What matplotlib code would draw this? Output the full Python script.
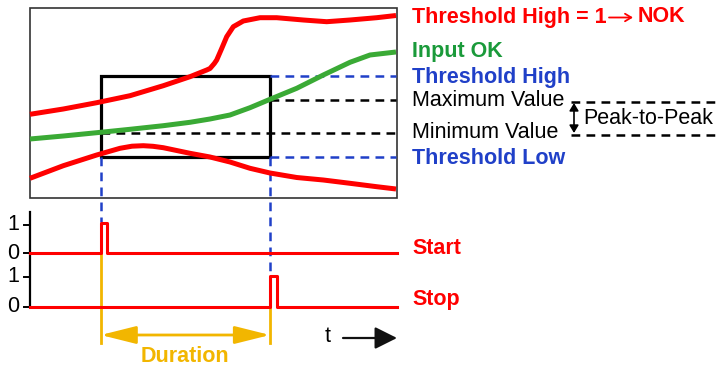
"""Peak-to-peak threshold diagram: input curve, thresholds, start/stop pulses."""

import matplotlib.pyplot as plt
from matplotlib.patches import Rectangle, FancyArrowPatch

plt.rcParams["font.family"] = ["Liberation Sans", "DejaVu Sans"]

RED = "#ff0000"
GREEN = "#3aaa35"
BLUE = "#2040c8"
ORANGE = "#f2b600"
FS = 15.5

# curves (pixel coords, y down)
high_x = [30, 63.3, 96.7, 130, 163.3, 190, 206.7, 210, 214.3, 216.7, 221.7, 226.7,
          233.3, 243.3, 260, 276.7, 303.3, 326.7, 350, 376.7, 396]
high_y = [114.3, 109, 102.7, 95.7, 85.7, 76.7, 70, 68.5, 63.5, 60, 48.5, 36.7,
          26.7, 21, 17.7, 17.7, 20, 21.7, 20, 17.7, 15.5]
ok_x = [30, 63.3, 96.7, 130, 163.3, 190, 210, 230, 250, 270, 296.7, 323.3, 350, 370, 396]
ok_y = [139, 136, 132.7, 129.3, 125.7, 122.3, 119, 115, 107.7, 99.3, 88.3, 75, 62.3, 55, 52]
low_x = [30, 63.3, 96.7, 120, 132, 143.3, 153, 163.3, 190, 210, 230, 250, 270,
         296.7, 323.3, 350, 376.7, 396]
low_y = [178.3, 165.7, 155, 148.3, 146.2, 145.7, 146.3, 147.7, 153.3, 157, 162, 168.3, 173,
         177.5, 180, 183.3, 186.7, 189]

win_x0, win_x1 = 100.7, 270  # start / stop time
thr_high, thr_low = 76, 157.3
val_max, val_min = 100, 132.7

start_x = [30, 100.7, 100.7, 107.3, 107.3, 397]
start_y = [253.3, 253.3, 223.3, 223.3, 253.3, 253.3]
stop_x = [30, 270, 270, 276.7, 276.7, 397]
stop_y = [306.7, 306.7, 275.7, 275.7, 306.7, 306.7]

tick_pos = [225, 253.3, 276.7, 306.7]
tick_lbl = ["1", "0", "1", "0"]

labels = [
    ("Input OK", 52, "#1a9a3a", "bold"),
    ("Threshold High", 77, BLUE, "bold"),
    ("Maximum Value", 101, "black", "normal"),
    ("Minimum Value", 133, "black", "normal"),
    ("Threshold Low", 158, BLUE, "bold"),
]

fig = plt.figure(figsize=(7.16, 3.68), dpi=100)
ax = fig.add_axes([0, 0, 1, 1])
ax.set_xlim(0, 716)
ax.set_ylim(368, 0)
ax.axis("off")

# top panel frame
ax.add_patch(Rectangle((30, 7.7), 366.5, 190, fill=False, ec="#333333", lw=1.2))

dash = dict(ls=(0, (3.5, 2.5)), lw=1.8)
ax.plot([win_x1, 396], [thr_high, thr_high], color=BLUE, **dash)
ax.plot([win_x1, 396], [thr_low, thr_low], color=BLUE, **dash)
ax.plot([win_x1, 396], [val_max, val_max], color="black", **dash)
ax.plot([win_x0, 396], [val_min, val_min], color="black", **dash)
ax.plot([win_x0, win_x0], [thr_low, 222], color=BLUE, **dash)
ax.plot([win_x1, win_x1], [thr_low, 275], color=BLUE, **dash)

for xs, ys, c in [(high_x, high_y, RED), (ok_x, ok_y, GREEN), (low_x, low_y, RED)]:
    ax.plot(xs, ys, color=c, lw=3.6, solid_capstyle="butt", solid_joinstyle="round")

ax.add_patch(Rectangle((win_x0, thr_high), win_x1 - win_x0, thr_low - thr_high,
                       fill=False, ec="black", lw=2.3))

# NOK label with a long thin arrow
ax.text(412, 17, "Threshold High = 1", color=RED, fontweight="bold", fontsize=FS,
        va="center", ha="left")
ax.annotate("", xy=(633, 17.5), xytext=(609, 17.5),
            arrowprops=dict(arrowstyle="->,head_length=0.5,head_width=0.3",
                            color=RED, lw=1.3, shrinkA=0, shrinkB=0, mutation_scale=9))
ax.text(638, 17, "NOK", color=RED, fontweight="bold", fontsize=FS, va="center", ha="left")

for text, y, color, weight in labels:
    ax.text(412, y, text, color=color, fontweight=weight, fontsize=FS,
            va="center", ha="left")

# peak-to-peak bracket
ax.plot([571, 716], [101.5, 101.5], color="black", **dash)
ax.plot([571, 716], [134.5, 134.5], color="black", **dash)
ax.add_patch(FancyArrowPatch((574, 103), (574, 133), arrowstyle="<|-|>,head_length=0.5,head_width=0.3",
                             mutation_scale=9, color="black", lw=1.2, shrinkA=0, shrinkB=0))
ax.text(583, 118, "Peak-to-Peak", fontsize=FS, va="center", ha="left")

# pulse panel
ax.plot([30, 30], [212, 307], color="black", lw=1.6)
for y, lbl in zip(tick_pos, tick_lbl):
    ax.plot([24, 30], [y, y], color="black", lw=1.4)
    ax.text(13, y, lbl, fontsize=FS, va="center", ha="center")

ax.plot([win_x0, win_x0], [253.3, 343], color=ORANGE, lw=2)
ax.plot([win_x1, win_x1], [306.7, 343], color=ORANGE, lw=2)
ax.plot(start_x, start_y, color=RED, lw=2.2)
ax.plot(stop_x, stop_y, color=RED, lw=2.2)
ax.text(412, 248, "Start", color=RED, fontweight="bold", fontsize=FS, va="center")
ax.text(412, 300, "Stop", color=RED, fontweight="bold", fontsize=FS, va="center")

ax.add_patch(FancyArrowPatch((win_x0, 335), (win_x1, 335),
                             arrowstyle="<|-|>,head_length=0.8,head_width=0.2",
                             mutation_scale=27, color=ORANGE, lw=2, shrinkA=0, shrinkB=0))
ax.text((win_x0 + win_x1) / 2, 357, "Duration", color=ORANGE, fontweight="bold",
        fontsize=FS, va="center", ha="center")

ax.text(328, 336, "t", fontsize=FS, va="center", ha="center")
ax.add_patch(FancyArrowPatch((343, 338), (397, 338), arrowstyle="-|>,head_length=0.4,head_width=0.2",
                             mutation_scale=34, color="#111111", lw=1.6, shrinkA=0, shrinkB=0))

fig.savefig("out.png", dpi=100)
